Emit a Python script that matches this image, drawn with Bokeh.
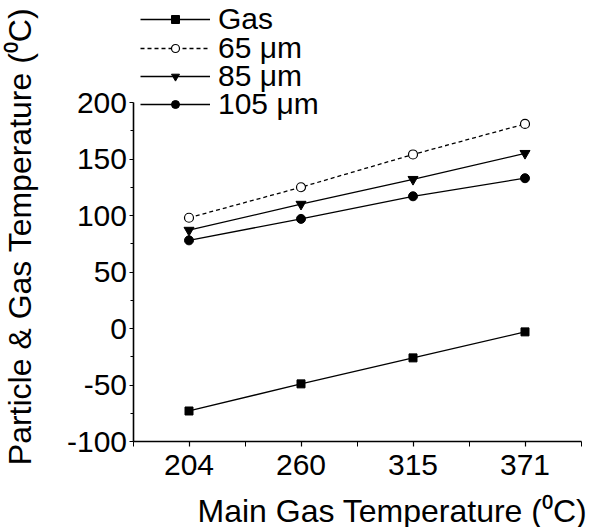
import math
from bokeh.plotting import figure
from bokeh.models import (Range1d, FixedTicker, Legend, LegendItem, Label, LinearAxis)
from bokeh.embed import file_html
from bokeh.resources import INLINE

# ---- data ----
main_gas_temp = ["204", "260", "315", "371"]
gas = [-73, -49, -26, -3]
p65 = [98, 125, 154, 181]
p85 = [87, 110, 132, 155]
p105 = [78, 97, 117, 133]
y_ticks = [-100, -50, 0, 50, 100, 150, 200]
y_tick_labels = ["-100", "-50", "0", "50", "100", "150", "200"]
y_minor = [-75, -25, 25, 75, 125, 175]
series_labels = ["Gas", "65 \u03bcm", "85 \u03bcm", "105 \u03bcm"]

FONT = "Liberation Sans"
xs = list(range(len(main_gas_temp)))

# ---- layout (pixels) ----
W, H = 593, 527
AX_X = 132.5          # canvas x of y axis
AX_RIGHT = 580.5      # canvas x of right end of x axis
Y_TOP = 102           # canvas y of top of y axis (200)
Y_BOT = 441           # canvas y of x axis (-100)
x0, x1 = -0.5, len(xs) - 0.5
ppx = (AX_RIGHT - AX_X) / (x1 - x0)
y0, y1 = y_ticks[0], y_ticks[-1]
ppy = (Y_BOT - Y_TOP) / (y1 - y0)

p = figure(width=W, height=H, output_backend="svg", toolbar_location=None,
           x_range=Range1d(x0 - AX_X / ppx, x1 + (W - AX_RIGHT) / ppx),
           y_range=Range1d(y0 - (H - Y_BOT) / ppy, y1 + Y_TOP / ppy),
           min_border=0, x_axis_type=None, y_axis_type=None)
p.outline_line_color = None
p.background_fill_color = "white"
p.border_fill_color = "white"

xa = LinearAxis(fixed_location=y0, bounds=(x0, x1))
ya = LinearAxis(fixed_location=x0, bounds=(y0, y1))
xa.ticker = FixedTicker(ticks=xs, minor_ticks=[i - 0.5 for i in xs] + [xs[-1] + 0.5])
xa.major_label_overrides = {i: t for i, t in zip(xs, main_gas_temp)}
ya.ticker = FixedTicker(ticks=y_ticks, minor_ticks=y_minor)
ya.major_label_overrides = {v: t for v, t in zip(y_ticks, y_tick_labels)}
for ax in (xa, ya):
    ax.axis_line_color = "black"
    ax.axis_line_width = 1.6
    ax.major_tick_line_color = "black"
    ax.minor_tick_line_color = "black"
    ax.major_tick_line_width = 1.2
    ax.minor_tick_line_width = 1.0
    ax.major_tick_in = 0
    ax.minor_tick_in = 0
    ax.major_label_text_font = FONT
    ax.major_label_text_font_size = "30px"
    ax.major_label_text_color = "black"
xa.major_tick_out = 5
xa.minor_tick_out = 5
xa.major_label_standoff = 8
ya.major_tick_out = 4
ya.minor_tick_out = 3
ya.major_label_standoff = 2
p.add_layout(xa, "below")
p.add_layout(ya, "left")

# axis titles
p.add_layout(Label(x=197, y=H - 510, x_units="screen", y_units="screen",
                   text="Main Gas Temperature (\u2070C)", text_font=FONT,
                   text_font_size="32px", text_align="left",
                   text_baseline="middle", text_color="black"))
p.add_layout(Label(x=19, y=H - 236, x_units="screen", y_units="screen",
                   angle=math.pi / 2,
                   text="Particle & Gas Temperature (\u2070C)", text_font=FONT,
                   text_font_size="32px", text_align="center",
                   text_baseline="middle", text_color="black"))

# series
rows = []
l = p.line(xs, gas, line_color="black", line_width=1.3)
s = p.scatter(xs, gas, marker="square", size=8, fill_color="black", line_color="black")
rows.append([l, s])

l = p.line(xs, p65, line_color="black", line_width=1.3, line_dash="4 3")
s = p.scatter(xs, p65, marker="circle", size=9, fill_color="white", line_color="black",
              line_width=1.2)
rows.append([l, s])

l = p.line(xs, p85, line_color="black", line_width=1.3)
s = p.scatter(xs, p85, marker="inverted_triangle", size=10, fill_color="black",
              line_color="black")
rows.append([l, s])

l = p.line(xs, p105, line_color="black", line_width=1.3)
s = p.scatter(xs, p105, marker="circle", size=9, fill_color="black", line_color="black")
rows.append([l, s])

row_centers = [18, 47, 75, 103]   # canvas y of each legend row
for lab, rnds, cy in zip(series_labels, rows, row_centers):
    lg = Legend(items=[LegendItem(label=lab, renderers=rnds)],
                location=(140, H - (cy + 18)), orientation="vertical",
                glyph_width=70, glyph_height=20, label_height=20, spacing=0,
                padding=0, margin=0, label_standoff=8,
                label_text_font=FONT, label_text_font_size="30px",
                label_text_color="black", border_line_color=None,
                background_fill_alpha=0)
    p.add_layout(lg, "center")

open("out.html", "w").write(file_html(p, INLINE))
